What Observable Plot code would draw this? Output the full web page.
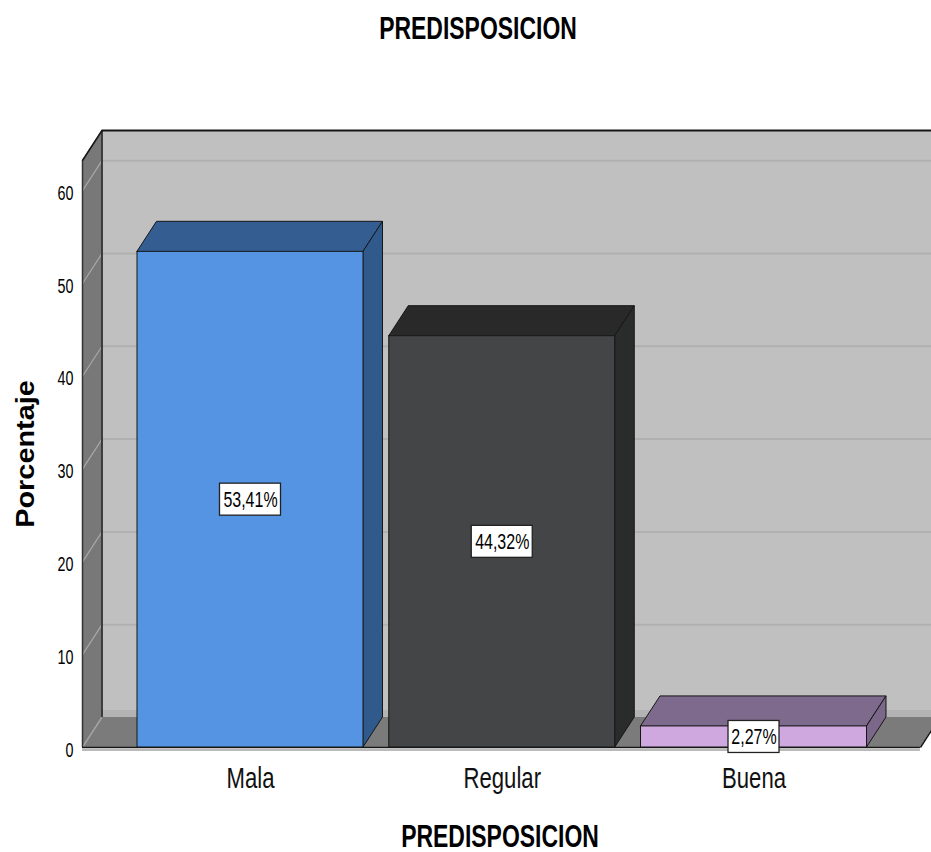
<!DOCTYPE html>
<html>
<head>
<meta charset="utf-8">
<script src="https://cdn.jsdelivr.net/npm/d3@7"></script>
<script src="https://cdn.jsdelivr.net/npm/@observablehq/plot@0.6"></script>
<style>
  body { margin: 0; background: #fff; }
  svg { display: block; }
</style>
</head>
<body>
<div id="chart"></div>
<script>
// Categories and their percentages
const categories = ["Mala", "Regular", "Buena"];
const percentages = [53.41, 44.32, 2.27];
const valueLabels = ["53,41%", "44,32%", "2,27%"];
const yTicks = [0, 10, 20, 30, 40, 50, 60];

// Face colours of each 3-D bar
const frontColors = ["#5594e3", "#434547", "#cfa8e0"];
const topColors = ["#345e92", "#292929", "#7e6a8c"];
const sideColors = ["#315a8c", "#2a2c2b", "#7b678a"];

const W = 931, H = 852;
const mL = 82, mR = 0, mT = 160, mB = 105;
const xDomain = [-0.6673, 2.705];
const yDomain = [0, 63.25];
const pxX = (W - mL - mR) / (xDomain[1] - xDomain[0]);
const pxY = (H - mT - mB) / (yDomain[1] - yDomain[0]);

// Depth of the 3-D box, expressed in data units
const DX = 19.5 / pxX, DY = 30 / pxY;
const HW = 113 / pxX;                 // half the bar width
const wallL = xDomain[0];             // front edge of the left wall
const wallB = wallL + DX;             // back edge of the left wall
const floorR = 2.661;                 // right front corner of the floor
const wallR = xDomain[1] + 0.3;       // back wall runs past the right edge
const yTop = yDomain[1];

const sans = "'Liberation Sans', Arial, sans-serif";
const edge = "#161616";

const bars = categories.map((c, i) => ({c, i, v: percentages[i], label: valueLabels[i]}));

const barMarks = bars.flatMap(b => [
  // top face
  Plot.areaX(
    [{y: b.v, x1: b.i - HW, x2: b.i + HW}, {y: b.v + DY, x1: b.i - HW + DX, x2: b.i + HW + DX}],
    {y: "y", x1: "x1", x2: "x2", fill: topColors[b.i], stroke: edge, strokeWidth: 1}
  ),
  // side face
  Plot.areaY(
    [{x: b.i + HW, y1: 0, y2: b.v}, {x: b.i + HW + DX, y1: DY, y2: b.v + DY}],
    {x: "x", y1: "y1", y2: "y2", fill: sideColors[b.i], stroke: edge, strokeWidth: 1}
  ),
  // front face
  Plot.rect([b], {
    x1: d => d.i - HW, x2: d => d.i + HW, y1: () => 0, y2: d => d.v,
    fill: frontColors[b.i], stroke: edge, strokeWidth: 1
  })
]);

// value label boxes, sized from the label length
const boxW = d => (d.label.length * 10 + 1) / pxX;
const boxH = 32 / pxY;

const svg = Plot.plot({
  width: W,
  height: H,
  marginLeft: mL,
  marginRight: mR,
  marginTop: mT,
  marginBottom: mB,
  x: {domain: xDomain, axis: null},
  y: {domain: yDomain, axis: null},
  style: {fontFamily: sans, color: "#000", background: "#fff"},
  marks: [
    // back wall
    Plot.rect([0], {x1: () => wallB, x2: () => wallR, y1: () => DY, y2: () => yTop + DY, fill: "#c0c0c0"}),
    Plot.rect([0], {x1: () => wallB, x2: () => wallR, y1: () => DY, y2: () => DY + 7 / pxY, fill: "#b3b3b3"}),
    Plot.ruleY(yTicks.slice(1), {y: d => d + DY, x1: () => wallB, x2: () => wallR, stroke: "#b0b0b0", strokeWidth: 2}),
    // floor
    Plot.areaX(
      [{y: 0, x1: wallL, x2: floorR}, {y: DY, x1: wallB, x2: floorR + DX}],
      {y: "y", x1: "x1", x2: "x2", fill: "#7b7b7b"}
    ),
    // left wall
    Plot.areaY(
      [{x: wallL, y1: 0, y2: yTop}, {x: wallB, y1: DY, y2: yTop + DY}],
      {x: "x", y1: "y1", y2: "y2", fill: "#787878"}
    ),
    Plot.link(yTicks, {x1: () => wallL, y1: d => d, x2: () => wallB, y2: d => d + DY, stroke: "#a8a8a8", strokeWidth: 1.2}),
    // box edges
    Plot.ruleX([wallL], {y1: () => 0, y2: () => yTop, stroke: "#333", strokeWidth: 1.5}),
    Plot.ruleX([wallB], {y1: () => DY, y2: () => yTop + DY, stroke: edge, strokeWidth: 1.5}),
    Plot.link([0], {x1: () => wallL, y1: () => yTop, x2: () => wallB, y2: () => yTop + DY, stroke: edge, strokeWidth: 1.5}),
    Plot.ruleY([yTop + DY], {x1: () => wallB, x2: () => wallR, stroke: edge, strokeWidth: 2}),
    Plot.ruleY([0], {x1: () => wallL, x2: () => floorR, dy: 2.5, stroke: "#a3a3a3", strokeWidth: 1.5}),
    Plot.ruleY([0], {x1: () => wallL, x2: () => floorR, stroke: edge, strokeWidth: 1.5}),
    Plot.link([0], {x1: () => floorR, y1: () => 0, x2: () => floorR + DX, y2: () => DY, stroke: edge, strokeWidth: 1.5}),
    // bars
    ...barMarks,
    // value labels
    Plot.rect(bars, {
      x1: d => d.i - boxW(d) / 2, x2: d => d.i + boxW(d) / 2,
      y1: d => d.v / 2 - boxH / 2, y2: d => d.v / 2 + boxH / 2,
      fill: "#fff", stroke: "#222", strokeWidth: 1.3
    }),
    Plot.text(bars, {x: "i", y: d => d.v / 2, text: "label", fontSize: 19.5, fill: "#000"}),
    // y tick labels
    Plot.text(yTicks, {x: () => wallL, y: d => d, text: d => String(d), textAnchor: "end", dx: -9, dy: 3, fontSize: 17.5, fill: "#000"}),
    // category labels
    Plot.text(bars, {x: "i", y: () => 0, text: "c", lineAnchor: "bottom", dy: 40, fontSize: 27, fill: "#111"}),
    // titles
    Plot.text(["PREDISPOSICION"], {frameAnchor: "top", textAnchor: "middle", lineAnchor: "bottom", dx: -29, dy: -122, fontSize: 28, fontWeight: "bold", fill: "#000"}),
    Plot.text(["PREDISPOSICION"], {frameAnchor: "bottom", textAnchor: "middle", lineAnchor: "bottom", dx: -7, dy: 99, fontSize: 28, fontWeight: "bold", fill: "#000"}),
    Plot.text(["Porcentaje"], {frameAnchor: "left", textAnchor: "middle", rotate: -90, dx: -57, fontSize: 26, fontWeight: "bold", fill: "#000"})
  ]
});

// Lettering is condensed and set slightly taller than wide
d3.select(svg).selectAll("text").each(function() {
  const t = this.getAttribute("transform") || "";
  this.setAttribute("transform", t + (t.includes("rotate") ? " scale(1.11,1)" : " scale(0.82,1.11)"));
});

document.getElementById("chart").append(svg);
</script>
</body>
</html>
